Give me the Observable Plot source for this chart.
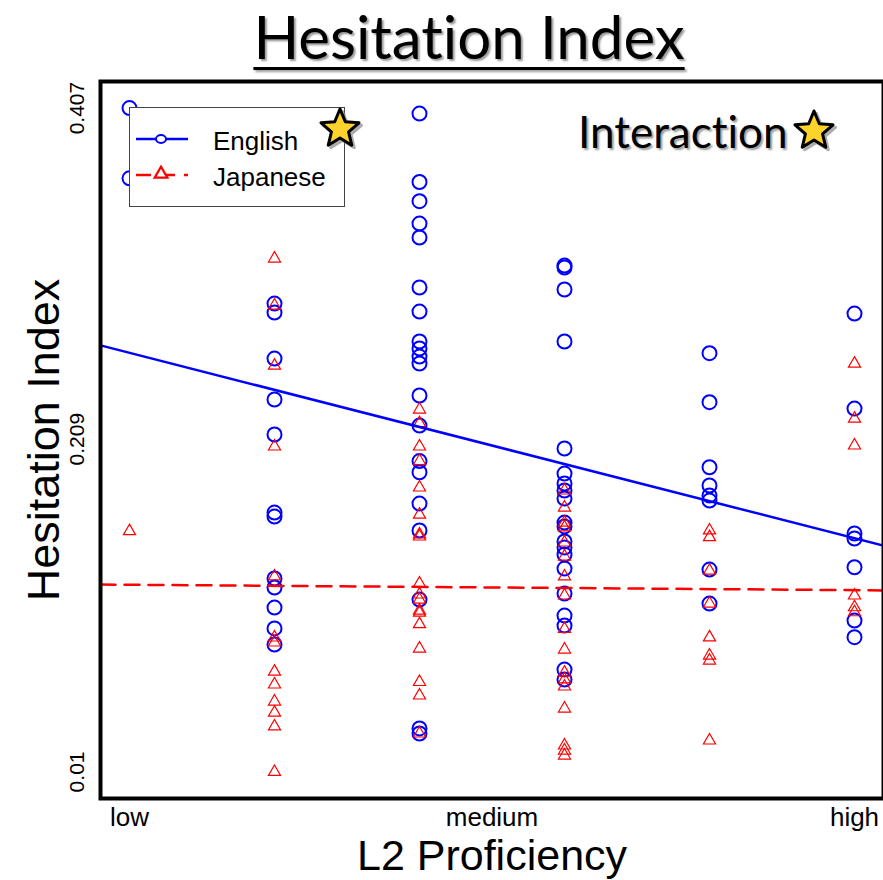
<!DOCTYPE html>
<html><head><meta charset="utf-8">
<script src="https://cdn.jsdelivr.net/npm/d3@7"></script>
<script src="https://cdn.jsdelivr.net/npm/@observablehq/plot@0.6"></script>
<style>
body{margin:0;background:#fff;}
#wrap{position:relative;width:883px;height:880px;overflow:hidden;background:#fff;font-family:"Liberation Sans",Arial,sans-serif;}
#title{position:absolute;left:0;top:0px;width:883px;padding-left:55px;box-sizing:border-box;text-align:center;font-family:Lato,"Liberation Sans",sans-serif;font-size:60px;line-height:1.2;font-variant-ligatures:none;text-decoration:underline;text-decoration-thickness:3px;text-underline-offset:8px;text-shadow:2px 2px 2px #9a9a9a;color:#000;}
#chart{position:absolute;left:0;top:75px;}
#legend{position:absolute;left:129px;top:107px;width:216px;height:100px;box-sizing:border-box;border:1.5px solid #444;background:#fff;}
#interaction{position:absolute;left:578px;top:104px;font-family:Lato,"Liberation Sans",sans-serif;font-size:44px;line-height:54px;font-variant-ligatures:none;text-shadow:2px 2px 2px #9a9a9a;color:#000;}
.star{position:absolute;}
</style></head>
<body>
<div id="wrap">
  <div id="title">Hesitation Index</div>
  <div id="chart"></div>
  <div id="legend"></div>
  <div id="interaction">Interaction</div>
</div>
<script>
// ---- data ----
const levels = [1, 2, 3, 4, 5, 6];
const englishValues = [
  [0.407, 0.365],
  [0.2901, 0.2847, 0.2572, 0.2327, 0.2118, 0.1651, 0.1627, 0.1257, 0.1203, 0.1083, 0.0958, 0.0862],
  [0.4037, 0.3628, 0.3513, 0.3379, 0.3296, 0.2997, 0.2853, 0.2674, 0.2632, 0.2584, 0.2542, 0.2351, 0.2171, 0.1959, 0.1892, 0.1705, 0.1544, 0.1131, 0.0360, 0.0330],
  [0.3128, 0.3116, 0.2985, 0.2674, 0.2034, 0.1884, 0.1825, 0.1783, 0.1735, 0.1591, 0.1568, 0.1478, 0.1442, 0.1400, 0.1316, 0.1167, 0.1035, 0.0975, 0.0712, 0.0653],
  [0.2604, 0.2311, 0.1922, 0.1813, 0.1753, 0.1723, 0.1310, 0.1107],
  [0.2841, 0.2273, 0.1526, 0.1496, 0.1324, 0.1005, 0.0906]
];
const japaneseValues = [
  [0.154],
  [0.3170, 0.2889, 0.2530, 0.2046, 0.1269, 0.0904, 0.0874, 0.0700, 0.0623, 0.0521, 0.0455, 0.0372, 0.0100],
  [0.2267, 0.2186, 0.2046, 0.1959, 0.1801, 0.1639, 0.1520, 0.1508, 0.1227, 0.1161, 0.1131, 0.1065, 0.1053, 0.0984, 0.0838, 0.0638, 0.0557, 0.0330],
  [0.1783, 0.1681, 0.1591, 0.1562, 0.1472, 0.1388, 0.1269, 0.1155, 0.0955, 0.0832, 0.0694, 0.0653, 0.0611, 0.0479, 0.0258, 0.0228, 0.0198],
  [0.1544, 0.1504, 0.1304, 0.1107, 0.0905, 0.0796, 0.0766, 0.0288],
  [0.2542, 0.2213, 0.2052, 0.1155, 0.1085, 0.1055]
];
const englishFit = {intercept: 0.2828, slope: -0.02217};
const japaneseFit = {intercept: 0.1226, slope: -0.00065};
const yTicks = [0.01, 0.209, 0.407];
const xTicks = [1, 3.5, 6];
const xTickLabels = ["low", "medium", "high"];
const seriesNames = ["English", "Japanese"];
const seriesColors = ["#0000ff", "#ff0000"];

// ---- build tables ----
const english = levels.flatMap((lv, i) => englishValues[i].map(v => ({level: lv, value: v})));
const japanese = levels.flatMap((lv, i) => japaneseValues[i].map(v => ({level: lv, value: v})));
const xPad = (d3.max(levels) - d3.min(levels)) * 0.04;
const yPad = (d3.max(yTicks) - d3.min(yTicks)) * 0.04;
const xDomain = [d3.min(levels) - xPad, d3.max(levels) + xPad];
const yDomain = [d3.min(yTicks) - yPad, d3.max(yTicks) + yPad];
const fitLine = fit => xDomain.map(x => ({level: x, value: fit.intercept + fit.slope * x}));

const chart = Plot.plot({
  width: 883, height: 805,
  marginLeft: 100, marginRight: 0, marginTop: 6, marginBottom: 82,
  x: {domain: xDomain},
  y: {domain: yDomain},
  style: {fontFamily: "'Liberation Sans', Arial, sans-serif", background: "white", color: "black", overflow: "visible"},
  marks: [
    Plot.dot(english, {x: "level", y: "value", r: 7, stroke: seriesColors[0], strokeWidth: 2, fill: "none"}),
    Plot.dot(japanese, {x: "level", y: "value", symbol: "triangle", r: 4.5, stroke: seriesColors[1], strokeWidth: 1.2, fill: "none"}),
    Plot.line(fitLine(englishFit), {x: "level", y: "value", stroke: seriesColors[0], strokeWidth: 2.5}),
    Plot.line(fitLine(japaneseFit), {x: "level", y: "value", stroke: seriesColors[1], strokeWidth: 2.5, strokeDasharray: "15,9"}),
    Plot.frame({stroke: "black", strokeWidth: 4}),
    Plot.axisY(yTicks, {tickSize: 0, tickRotate: -90, tickPadding: 17, fontSize: 21, tickFormat: d => String(d), label: null}),
    Plot.axisX(xTicks, {tickSize: 0, tickPadding: 9, fontSize: 26, tickFormat: d => xTickLabels[xTicks.indexOf(d)], label: null}),
    Plot.text(["Hesitation Index"], {frameAnchor: "left", rotate: -90, dx: -42, textAnchor: "middle", lineAnchor: "bottom", fontSize: 45, text: d => d}),
    Plot.text(["L2 Proficiency"], {frameAnchor: "bottom", dy: 41, textAnchor: "middle", lineAnchor: "top", fontSize: 43, text: d => d})
  ]
});
document.getElementById("chart").appendChild(chart);

// ---- legend ----
const lg = d3.select("#legend").append("svg").attr("width", 213).attr("height", 97).style("display", "block");
seriesNames.forEach((name, i) => {
  const yy = 31 + i * 36;
  lg.append("line").attr("x1", 6).attr("x2", 58).attr("y1", yy).attr("y2", yy)
    .attr("stroke", seriesColors[i]).attr("stroke-width", 2.5)
    .attr("stroke-dasharray", i === 1 ? "15,9" : null);
  if (i === 0) {
    lg.append("ellipse").attr("cx", 31).attr("cy", yy).attr("rx", 5).attr("ry", 4)
      .attr("fill", "white").attr("stroke", seriesColors[i]).attr("stroke-width", 2);
  } else {
    lg.append("path").attr("d", d3.symbol(d3.symbolTriangle, 70)()).attr("transform", `translate(31,${yy - 1})`)
      .attr("fill", "white").attr("stroke", seriesColors[i]).attr("stroke-width", 2.2);
  }
  lg.append("text").attr("x", 83).attr("y", yy + 11).attr("font-size", 26)
    .attr("font-family", "'Liberation Sans', Arial, sans-serif").text(name);
});

// ---- stars ----
function starPath(cx, cy, R, r) {
  const pts = [];
  for (let k = 0; k < 10; k++) {
    const a = -Math.PI / 2 + k * Math.PI / 5;
    const rad = k % 2 === 0 ? R : r;
    pts.push([cx + rad * Math.cos(a), cy + rad * Math.sin(a)]);
  }
  return "M" + pts.map(p => p.join(",")).join("L") + "Z";
}
function addStar(cx, cy) {
  const s = d3.select("#wrap").append("svg").attr("class", "star")
    .style("left", (cx - 26) + "px").style("top", (cy - 26) + "px")
    .attr("width", 52).attr("height", 52);
  s.append("path").attr("d", starPath(28.5, 28.5, 20, 9)).attr("fill", "#8a8a8a").attr("stroke", "#8a8a8a").attr("stroke-width", 3).attr("stroke-linejoin", "round").attr("opacity", 0.7);
  s.append("path").attr("d", starPath(26, 26, 20, 9)).attr("fill", "#fdd22b").attr("stroke", "#000").attr("stroke-width", 3).attr("stroke-linejoin", "round");
}
addStar(340, 129);
addStar(814, 131);
</script>
</body></html>
